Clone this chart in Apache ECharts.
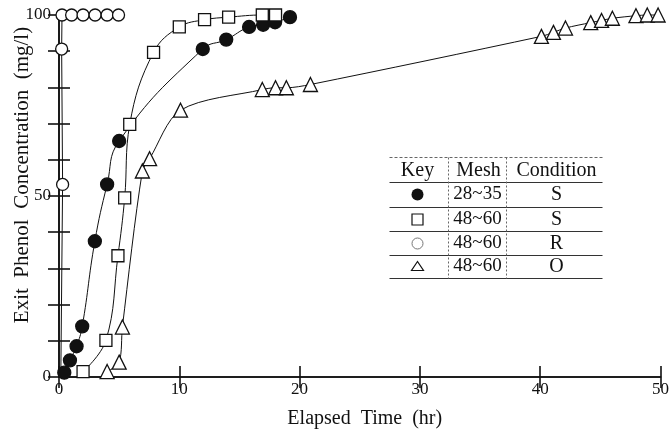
<!DOCTYPE html>
<html>
<head>
<meta charset="utf-8">
<script src="https://cdn.jsdelivr.net/npm/echarts@6/dist/echarts.min.js"></script>
<style>
  html, body { margin: 0; padding: 0; background: #fff; }
  #chart { width: 672px; height: 434px; }
</style>
</head>
<body>
<div id="chart"></div>
<script>
// [elapsed time (hr), exit phenol (mg/l)]
const mesh2835S = [
  [0.44, 1.2], [0.91, 4.6], [1.46, 8.5], [1.93, 14], [2.98, 37.5],
  [4.0, 53.2], [5.0, 65.2], [11.95, 90.6], [13.9, 93.2], [15.8, 96.7],
  [16.97, 97.3], [17.96, 98], [19.2, 99.4]
];
const mesh4860S = [
  [2.0, 1.5], [3.9, 10.1], [4.9, 33.5], [5.46, 49.5], [5.88, 69.8],
  [7.86, 89.7], [10.0, 96.7], [12.1, 98.7], [14.1, 99.4], [16.9, 100], [18.0, 100]
];
// first point is where the curve leaves the axis (no marker there)
const mesh4860R = [
  [0.15, 0], [0.3, 53.2], [0.22, 90.6], [0.25, 100], [1.05, 100],
  [2.0, 100], [3.0, 100], [4.0, 100], [4.95, 100]
];
const mesh4860O = [
  [4.0, 1.5], [5.0, 4.1], [5.27, 13.8], [6.93, 56.9], [7.53, 60.3],
  [10.1, 73.7], [16.9, 79.4], [18.0, 79.9], [18.9, 79.9], [20.9, 80.8],
  [40.1, 94.1], [41.1, 95.2], [42.1, 96.4], [44.2, 97.9], [45.1, 98.5],
  [46.0, 99.1], [47.96, 99.8], [48.9, 100], [49.8, 100]
];
const yLabelShown = [0, 50, 100];

const serif = '"Liberation Serif", "DejaVu Serif", serif';
const chart = echarts.init(document.getElementById('chart'));

function mk(name, data, symbol, size, fill, smooth) {
  return {
    name: name,
    type: 'line',
    data: data,
    symbol: symbol,
    symbolSize: size,
    smooth: smooth,
    showAllSymbol: true,
    lineStyle: { color: '#111', width: 1 },
    itemStyle: { color: fill, borderColor: '#111', borderWidth: 1.3 },
    emphasis: { disabled: true },
    animation: false,
    clip: false
  };
}

const rData = mesh4860R.map((p, i) => i === 0 ? { value: p, symbol: 'none' } : p);

const axisLine = { show: true, lineStyle: { color: '#111', width: 1.6 } };
const tick = { show: true, inside: true, length: 11, lineStyle: { color: '#111', width: 1.6 } };

chart.setOption({
  backgroundColor: '#fff',
  animation: false,
  grid: { left: 59, right: 9, top: 15, bottom: 56 },
  xAxis: [
    {
      type: 'value', min: 0, max: 50, interval: 10, position: 'bottom',
      axisLine: axisLine, axisTick: tick, splitLine: { show: false },
      axisLabel: { color: '#111', fontFamily: serif, fontSize: 17, margin: 4 },
      name: 'Elapsed  Time  (hr)', nameLocation: 'middle', nameGap: 32,
      nameTextStyle: { color: '#111', fontFamily: serif, fontSize: 20, padding: [0, 0, 0, 10] }
    },
    {
      type: 'value', min: 0, max: 50, interval: 10, position: 'top',
      axisLine: axisLine, axisTick: tick, splitLine: { show: false },
      axisLabel: { show: false }
    }
  ],
  yAxis: [
    {
      type: 'value', min: 0, max: 100, interval: 10, position: 'left',
      axisLine: axisLine, axisTick: tick, splitLine: { show: false },
      axisLabel: {
        color: '#111', fontFamily: serif, fontSize: 17, margin: 8,
        formatter: v => yLabelShown.includes(v) ? String(v) : ''
      }
    },
    {
      type: 'value', min: 0, max: 100, interval: 10, position: 'right',
      axisLine: axisLine, axisTick: tick, splitLine: { show: false },
      axisLabel: { show: false }
    }
  ],
  series: [
    mk('28~35 S', mesh2835S, 'circle', 13, '#111', 0.45),
    mk('48~60 S', mesh4860S, 'rect', 12, '#fff', 0.4),
    mk('48~60 R', rData, 'circle', 12, '#fff', false),
    mk('48~60 O', mesh4860O, 'triangle', 14, '#fff', 0.3)
  ],
  graphic: [
    {
      type: 'text', x: 22, y: 175, rotation: Math.PI / 2,
      style: {
        text: 'Exit  Phenol  Concentration  (mg/l)',
        font: '21px ' + serif, fill: '#111',
        textAlign: 'center', textVerticalAlign: 'middle'
      }
    },
    {
      type: 'group', left: 387, top: 155,
      children: [
        // rule lines of the key table
        { type: 'line', shape: { x1: 0, y1: 0, x2: 213, y2: 0 }, style: { stroke: '#666', lineWidth: 1, lineDash: [3, 2] } },
        { type: 'line', shape: { x1: 0, y1: 25, x2: 213, y2: 25 }, style: { stroke: '#333', lineWidth: 1 } },
        { type: 'line', shape: { x1: 0, y1: 50, x2: 213, y2: 50 }, style: { stroke: '#333', lineWidth: 1 } },
        { type: 'line', shape: { x1: 0, y1: 74, x2: 213, y2: 74 }, style: { stroke: '#333', lineWidth: 1 } },
        { type: 'line', shape: { x1: 0, y1: 98, x2: 213, y2: 98 }, style: { stroke: '#333', lineWidth: 1 } },
        { type: 'line', shape: { x1: 0, y1: 121, x2: 213, y2: 121 }, style: { stroke: '#333', lineWidth: 1 } },
        { type: 'line', shape: { x1: 59, y1: 0, x2: 59, y2: 121 }, style: { stroke: '#666', lineWidth: 1, lineDash: [2, 2] } },
        { type: 'line', shape: { x1: 117, y1: 0, x2: 117, y2: 121 }, style: { stroke: '#666', lineWidth: 1, lineDash: [2, 2] } },
        { type: 'text', x: 28, y: 13, style: { text: 'Key', font: '20px ' + serif, fill: '#111', textAlign: 'center', textVerticalAlign: 'middle' } },
        { type: 'text', x: 89, y: 13, style: { text: 'Mesh', font: '20px ' + serif, fill: '#111', textAlign: 'center', textVerticalAlign: 'middle' } },
        { type: 'text', x: 167, y: 13, style: { text: 'Condition', font: '20px ' + serif, fill: '#111', textAlign: 'center', textVerticalAlign: 'middle' } },
        { type: 'circle', shape: { cx: 28, cy: 37, r: 6 }, style: { fill: '#111' } },
        { type: 'rect', shape: { x: 22.5, y: 56.5, width: 11, height: 11 }, style: { fill: '#fff', stroke: '#111', lineWidth: 1.2 } },
        { type: 'circle', shape: { cx: 28, cy: 86, r: 5.5 }, style: { fill: '#fff', stroke: '#777', lineWidth: 1 } },
        { type: 'polygon', shape: { points: [[28, 104], [22, 113], [34, 113]] }, style: { fill: '#fff', stroke: '#111', lineWidth: 1.2 } },
        { type: 'text', x: 88, y: 37, style: { text: '28~35', font: '19px ' + serif, fill: '#111', textAlign: 'center', textVerticalAlign: 'middle' } },
        { type: 'text', x: 88, y: 62, style: { text: '48~60', font: '19px ' + serif, fill: '#111', textAlign: 'center', textVerticalAlign: 'middle' } },
        { type: 'text', x: 88, y: 86, style: { text: '48~60', font: '19px ' + serif, fill: '#111', textAlign: 'center', textVerticalAlign: 'middle' } },
        { type: 'text', x: 88, y: 109, style: { text: '48~60', font: '19px ' + serif, fill: '#111', textAlign: 'center', textVerticalAlign: 'middle' } },
        { type: 'text', x: 167, y: 37, style: { text: 'S', font: '20px ' + serif, fill: '#111', textAlign: 'center', textVerticalAlign: 'middle' } },
        { type: 'text', x: 167, y: 62, style: { text: 'S', font: '20px ' + serif, fill: '#111', textAlign: 'center', textVerticalAlign: 'middle' } },
        { type: 'text', x: 167, y: 86, style: { text: 'R', font: '20px ' + serif, fill: '#111', textAlign: 'center', textVerticalAlign: 'middle' } },
        { type: 'text', x: 167, y: 109, style: { text: 'O', font: '20px ' + serif, fill: '#111', textAlign: 'center', textVerticalAlign: 'middle' } }
      ]
    }
  ]
});
</script>
</body>
</html>
